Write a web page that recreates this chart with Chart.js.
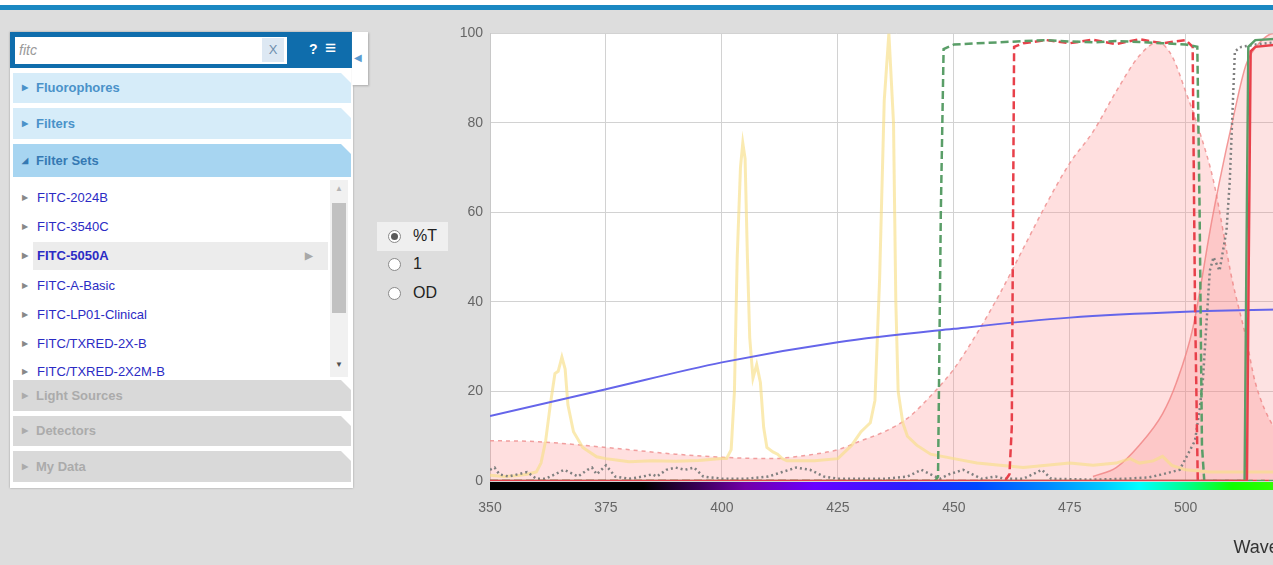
<!DOCTYPE html>
<html>
<head>
<meta charset="utf-8">
<script src="https://cdn.jsdelivr.net/npm/chart.js@4.4.1/dist/chart.umd.min.js"></script>
<style>
  html, body { margin: 0; padding: 0; }
  body {
    width: 1273px; height: 565px; overflow: hidden; position: relative;
    background: #dddddd; font-family: "Liberation Sans", Arial, sans-serif;
  }
  #topwhite { position: absolute; left: 0; top: 0; width: 1273px; height: 5px; background: #fff; }
  #topbar { position: absolute; left: 0; top: 5px; width: 1273px; height: 5px; background: #1b88c2; }
  .abs { position: absolute; }
  #panel { left: 10px; top: 32px; width: 343px; height: 456px; background: #fff; box-shadow: 0 0 2px #999; }
  #search { left: 10px; top: 32px; width: 342px; height: 36px; background: #0f6dac; }
  #inp { left: 15px; top: 37px; width: 272px; height: 27px; background: #fff; }
  #q { left: 19px; top: 37px; line-height: 27px; font-size: 14px; font-style: italic; color: #9a9a9a; }
  #xbtn { left: 262px; top: 38px; width: 22px; height: 24px; background: #dde8f3; color: #6f8fae; font-size: 13px; text-align: center; line-height: 24px; }
  #help { left: 309px; top: 39px; color: #fff; font-weight: bold; font-size: 14px; line-height: 20px; }
  #menu { left: 325px; top: 37px; color: #fff; font-size: 19px; line-height: 22px; }
  #tab { left: 352px; top: 32px; width: 16px; height: 53px; background: #fff; box-shadow: 1px 1px 2px #aaa; }
  #tabarrow { left: 354px; top: 52px; color: #5b9bd1; font-size: 10px; }
  .acc {
    position: absolute; left: 13px; width: 338px; font-weight: bold; font-size: 13px;
    clip-path: polygon(0 0, calc(100% - 10px) 0, 100% 10px, 100% 100%, 0 100%);
  }
  .acc .arr { position: absolute; left: 9px; font-size: 8px; }
  .acc .lbl { position: absolute; left: 23px; }
  .blue { background: #d6ecf9; color: #4a92c9; }
  .open { background: #a7d5f1; color: #3579b3; }
  .gray { background: #d9d9d9; color: #ababab; }
  #list { left: 13px; top: 180px; width: 338px; height: 197px; overflow: hidden; background: #fff; }
  .item { position: absolute; left: 0; width: 315px; height: 28px; line-height: 28px; font-size: 13px; color: #2b2bc4; }
  .item .arr { position: absolute; left: 9px; font-size: 8px; color: #888; }
  .item .lbl { position: absolute; left: 24px; }
  .item.sel { left: 20px; width: 295px; background: #ececec; font-weight: bold; }
  .item.sel .arr { left: -11px; }
  .item.sel .lbl { left: 4px; }
  .item.sel .go { position: absolute; left: 272px; font-size: 10px; color: #a8a8a8; }
  #scroll { left: 330px; top: 180px; width: 18px; height: 197px; background: #f1f1f1; }
  #thumb { left: 332px; top: 203px; width: 14px; height: 110px; background: #c1c1c1; }
  #up { left: 335px; top: 184px; font-size: 8px; color: #b5b5b5; }
  #down { left: 335px; top: 360px; font-size: 8px; color: #505050; }
  #radiobox { left: 377px; top: 222px; width: 71px; height: 29px; background: #efefef; }
  .radio { position: absolute; width: 13px; height: 13px; border-radius: 50%; border: 1px solid #8a8a8a; background: #fff; box-sizing: border-box; }
  .radio.on::after { content: ""; position: absolute; left: 2px; top: 2px; width: 7px; height: 7px; border-radius: 50%; background: #5a5a5a; }
  .rlbl { position: absolute; font-size: 16px; color: #222; line-height: 18px; }
  #chart { position: absolute; left: 430px; top: 18px; }
</style>
</head>
<body>
<div id="topwhite"></div>
<div id="topbar"></div>

<div id="panel" class="abs"></div>
<div id="search" class="abs"></div>
<div id="inp" class="abs"></div>
<div id="q" class="abs">fitc</div>
<div id="xbtn" class="abs">X</div>
<div id="help" class="abs">?</div>
<div id="menu" class="abs">&#8801;</div>
<div id="tab" class="abs"></div>
<div id="tabarrow" class="abs">&#9664;</div>

<div class="acc blue" style="top:73px;height:30px;line-height:30px"><span class="arr">&#9654;</span><span class="lbl">Fluorophores</span></div>
<div class="acc blue" style="top:108px;height:31px;line-height:31px"><span class="arr">&#9654;</span><span class="lbl">Filters</span></div>
<div class="acc open" style="top:144px;height:33px;line-height:33px"><span class="arr">&#9698;</span><span class="lbl">Filter Sets</span></div>

<div id="list" class="abs">
  <div class="item" style="top:4px"><span class="arr">&#9654;</span><span class="lbl">FITC-2024B</span></div>
  <div class="item" style="top:33px"><span class="arr">&#9654;</span><span class="lbl">FITC-3540C</span></div>
  <div class="item sel" style="top:62px"><span class="arr">&#9654;</span><span class="lbl">FITC-5050A</span><span class="go">&#9654;</span></div>
  <div class="item" style="top:92px"><span class="arr">&#9654;</span><span class="lbl">FITC-A-Basic</span></div>
  <div class="item" style="top:121px"><span class="arr">&#9654;</span><span class="lbl">FITC-LP01-Clinical</span></div>
  <div class="item" style="top:150px"><span class="arr">&#9654;</span><span class="lbl">FITC/TXRED-2X-B</span></div>
  <div class="item" style="top:178px"><span class="arr">&#9654;</span><span class="lbl">FITC/TXRED-2X2M-B</span></div>
</div>
<div id="scroll" class="abs"></div>
<div id="thumb" class="abs"></div>
<div id="up" class="abs">&#9650;</div>
<div id="down" class="abs">&#9660;</div>

<div class="acc gray" style="top:380px;height:31px;line-height:31px"><span class="arr">&#9654;</span><span class="lbl">Light Sources</span></div>
<div class="acc gray" style="top:416px;height:30px;line-height:30px"><span class="arr">&#9654;</span><span class="lbl">Detectors</span></div>
<div class="acc gray" style="top:451px;height:31px;line-height:31px"><span class="arr">&#9654;</span><span class="lbl">My Data</span></div>

<div id="radiobox" class="abs"></div>
<div class="radio on" style="left:388px;top:230px"></div><div class="rlbl" style="left:413px;top:227px">%T</div>
<div class="radio" style="left:388px;top:258px"></div><div class="rlbl" style="left:413px;top:255px">1</div>
<div class="radio" style="left:388px;top:287px"></div><div class="rlbl" style="left:413px;top:284px">OD</div>

<canvas id="chart" width="1714" height="547"></canvas>

<script>
// Axis range
const X_MIN = 350;
const X_MAX = 700;
const Y_TICKS = [0, 20, 40, 60, 80, 100];

// Mercury lamp spectrum (yellow)
const lampNm  = [350, 353, 356, 358, 360, 361, 362, 363, 364, 364.7, 365.5, 366.2, 366.8, 368, 370, 373, 375, 378, 380, 385, 390, 395, 400, 401, 402, 402.7, 403.3, 404, 404.5, 405, 405.5, 406, 406.7, 407.5, 408.3, 409, 409.7, 411, 412, 413, 414, 420, 425, 428, 430, 431, 432, 433, 434, 435, 436, 437, 437.5, 438, 439, 440, 442, 445, 450, 455, 460, 465, 470, 475, 480, 485, 488, 490, 493, 495, 497, 500, 505, 520, 560, 600];
const lampPct = [1.3, 1, 1.2, 1.5, 2, 4, 9, 17, 24, 24.5, 27.7, 25, 17, 11, 7.5, 5.4, 5, 4.6, 4.3, 4.5, 4.4, 4.6, 5, 5, 7, 20, 50, 70, 75.5, 72, 50, 32, 23, 26, 22, 12, 7.5, 6.5, 6, 5, 4.5, 4.5, 5, 8, 11, 12, 13, 18, 45, 85, 100, 80, 40, 20, 13, 10, 8, 6, 5, 4, 3.5, 3, 3.5, 4, 3.5, 4, 5, 4, 4.5, 5.5, 3.5, 2.5, 2, 2, 2, 2];

// Detector response (blue)
const detNm  = [350, 375, 400, 425, 450, 475, 500, 520, 560, 600, 650, 700];
const detPct = [14.5, 20.5, 26.5, 31, 34, 36.5, 37.8, 38.3, 38.5, 38, 36, 33];

// Fluorophore absorption (pink dashed) and emission (pink solid)
const absNm  = [350, 360, 375, 390, 400, 410, 420, 425, 430, 435, 440, 445, 450, 455, 460, 465, 470, 475, 480, 485, 490, 494, 497, 500, 503, 506, 510, 513, 515, 519, 525, 530, 540, 550];
const absPct = [9, 8.8, 7.5, 6, 5.3, 5, 6, 7, 9, 11, 14, 19, 25, 33, 42, 52, 62, 71, 78, 87, 95, 98, 95, 87, 78, 67, 45, 32, 22, 12, 5, 2, 0.5, 0];
const emNm   = [480, 485, 490, 495, 498, 501.5, 505.6, 507.3, 510, 513, 516, 519, 522, 525, 530, 540, 550, 560, 580, 600, 620, 650, 700];
const emPct  = [1, 3, 8, 15, 22, 34, 58, 67, 80, 93, 98, 100, 99, 96, 88, 70, 50, 35, 15, 7, 3, 1, 0];

// Excitation filters (dashed)
const exGreenNm  = [350, 446, 446.6, 447.2, 447.8, 450, 455, 460, 465, 470, 475, 480, 485, 490, 495, 500, 502.5, 503, 503.5, 504, 700];
const exGreenPct = [0, 0, 1, 60, 96.5, 97.5, 97.8, 98, 98.3, 98.5, 98.2, 98, 98.3, 98.1, 97.8, 97.5, 97, 60, 8, 0, 0];
const exRedNm    = [350, 461, 462, 462.5, 463, 465, 470, 475, 480, 485, 490, 495, 500, 501.5, 502, 502.6, 700];
const exRedPct   = [0, 0, 1.5, 12, 97, 97.8, 98.5, 97.8, 98.6, 97.6, 98.7, 97.8, 98.5, 97, 40, 0, 0];

// Emission filters (solid)
const emGreenNm  = [350, 512.7, 513.1, 513.5, 515, 520, 530, 545, 555, 556, 700];
const emGreenPct = [0, 0, 50, 97, 98.5, 98.8, 98.5, 98.7, 98, 0, 0];
const emRedNm    = [350, 513.2, 513.6, 514, 515, 520, 530, 545, 555, 556, 700];
const emRedPct   = [0, 0, 50, 96, 97, 97.5, 97.3, 97.6, 97, 0, 0];

// Dichroic (gray dotted)
const dichNm  = [350, 351, 352, 354, 356, 358, 360, 362, 364, 366, 368, 369, 371, 372, 373, 375, 377, 380, 383, 385, 386, 388, 390, 392, 394, 396, 400, 405, 410, 413, 416, 419, 422, 425, 430, 435, 440, 443, 445, 447, 449, 452, 454, 456, 459, 461, 465, 469, 471, 480, 487, 492, 495, 498.7, 502, 503, 503.7, 505.2, 506, 507.3, 508.8, 509.5, 510.6, 512, 515, 519, 530, 560];
const dichPct = [2.5, 3, 1.5, 1, 1.5, 2, 0.5, 0.5, 1.5, 2.5, 1.5, 1, 2.5, 3, 1.5, 3.5, 1, 0.5, 1, 1.5, 1, 2.5, 3, 2.5, 3, 1, 0.5, 0.5, 1, 2, 3, 2.5, 1, 0.5, 0.5, 0.5, 1, 2.5, 1.5, 0.5, 1.5, 2.5, 1.5, 0.5, 1, 0.5, 0.5, 2.5, 0.5, 0.3, 0.5, 0.8, 1.5, 2.5, 9, 16, 22.5, 47, 50, 47, 56, 67, 96, 97, 97.5, 98, 97.5, 97];

const pts = (xs, ys) => xs.map((x, i) => ({ x: x, y: ys[i] }));

// Visible-spectrum strip under the x axis
const spectrumStrip = {
    id: 'spectrumStrip',
    beforeDraw(chart) {
        const { ctx, chartArea } = chart;
        ctx.save();
        ctx.fillStyle = '#ffffff';
        ctx.fillRect(chartArea.left, chartArea.top, chartArea.right - chartArea.left, chartArea.bottom - chartArea.top);
        ctx.restore();
    },
    afterDraw(chart) {
        const { ctx, chartArea } = chart;
        const xs = chart.scales.x;
        const stops = [
            [350, '#000000'], [383, '#000000'], [395, '#3a0058'], [405, '#7200a8'],
            [420, '#6a00ff'], [440, '#2a20ff'], [455, '#0048ff'], [470, '#0088ff'],
            [482, '#00c8ff'], [490, '#00ffff'], [500, '#00ff90'], [510, '#10ff00'],
            [550, '#90ff00'], [580, '#ffff00'], [600, '#ff9000'], [640, '#ff0000'], [700, '#800000']
        ];
        const g = ctx.createLinearGradient(chartArea.left, 0, chartArea.right, 0);
        const w = chartArea.right - chartArea.left;
        stops.forEach(s => g.addColorStop((xs.getPixelForValue(s[0]) - chartArea.left) / w, s[1]));
        ctx.save();
        ctx.fillStyle = g;
        ctx.fillRect(chartArea.left, chartArea.bottom + 1, w, 8);
        ctx.restore();
    }
};

const ctx = document.getElementById('chart').getContext('2d');

new Chart(ctx, {
    type: 'line',
    data: {
        datasets: [
            {
                label: 'Emission filter (red)',
                data: pts(emRedNm, emRedPct),
                borderColor: '#e8404a', borderWidth: 2.5, order: 0
            },
            {
                label: 'Emission filter (green)',
                data: pts(emGreenNm, emGreenPct),
                borderColor: '#5a9e68', borderWidth: 2.5, order: 1
            },
            {
                label: 'Excitation filter (green)',
                data: pts(exGreenNm, exGreenPct),
                borderColor: '#5a9e68', borderWidth: 2.5, borderDash: [8, 4], order: 2
            },
            {
                label: 'Excitation filter (red)',
                data: pts(exRedNm, exRedPct),
                borderColor: '#e8404a', borderWidth: 2.5, borderDash: [8, 4], order: 3
            },
            {
                label: 'Dichroic',
                data: pts(dichNm, dichPct),
                borderColor: '#808080', borderWidth: 2.5, borderDash: [2, 3], order: 4
            },
            {
                label: 'Detector',
                data: pts(detNm, detPct),
                borderColor: '#6565ea', borderWidth: 2, cubicInterpolationMode: 'monotone', order: 5
            },
            {
                label: 'Lamp',
                data: pts(lampNm, lampPct),
                borderColor: 'rgba(248, 222, 135, 0.65)', borderWidth: 3, order: 6
            },
            {
                label: 'FITC emission',
                data: pts(emNm, emPct),
                borderColor: 'rgba(240, 130, 130, 0.8)', borderWidth: 1.5,
                backgroundColor: 'rgba(245, 110, 110, 0.2)', fill: 'origin',
                cubicInterpolationMode: 'monotone', order: 7
            },
            {
                label: 'FITC absorption',
                data: pts(absNm, absPct),
                borderColor: 'rgba(240, 150, 150, 0.9)', borderWidth: 1.5, borderDash: [4, 4],
                backgroundColor: 'rgba(255, 150, 150, 0.3)', fill: 'origin',
                cubicInterpolationMode: 'monotone', order: 8
            }
        ]
    },
    options: {
        responsive: false,
        animation: false,
        layout: { padding: { top: 11, right: 16, left: 0, bottom: 0 } },
        elements: { point: { radius: 0 }, line: { tension: 0 } },
        plugins: { legend: { display: false }, tooltip: { enabled: false } },
        scales: {
            x: {
                type: 'linear',
                min: X_MIN,
                max: X_MAX,
                ticks: {
                    stepSize: 25,
                    padding: 19,
                    color: '#666',
                    font: { family: "'Liberation Sans', Arial, sans-serif", size: 14 }
                },
                grid: { color: '#d2d2d2', drawTicks: false },
                border: { display: false },
                title: {
                    display: true,
                    text: 'Wavelength (nm)',
                    color: '#333',
                    padding: { top: 4, bottom: 6 },
                    font: { family: "'Liberation Sans', Arial, sans-serif", size: 18 }
                },
                afterFit: scale => { scale.height = 84; }
            },
            y: {
                min: 0,
                max: 100,
                afterBuildTicks: scale => { scale.ticks = Y_TICKS.map(v => ({ value: v })); },
                ticks: {
                    padding: 7,
                    color: '#666',
                    font: { family: "'Liberation Sans', Arial, sans-serif", size: 14 }
                },
                grid: { color: '#d2d2d2', drawTicks: false },
                border: { color: '#c8c8c8' },
                afterFit: scale => { scale.width = 60; }
            }
        }
    },
    plugins: [spectrumStrip]
});
</script>
</body>
</html>
